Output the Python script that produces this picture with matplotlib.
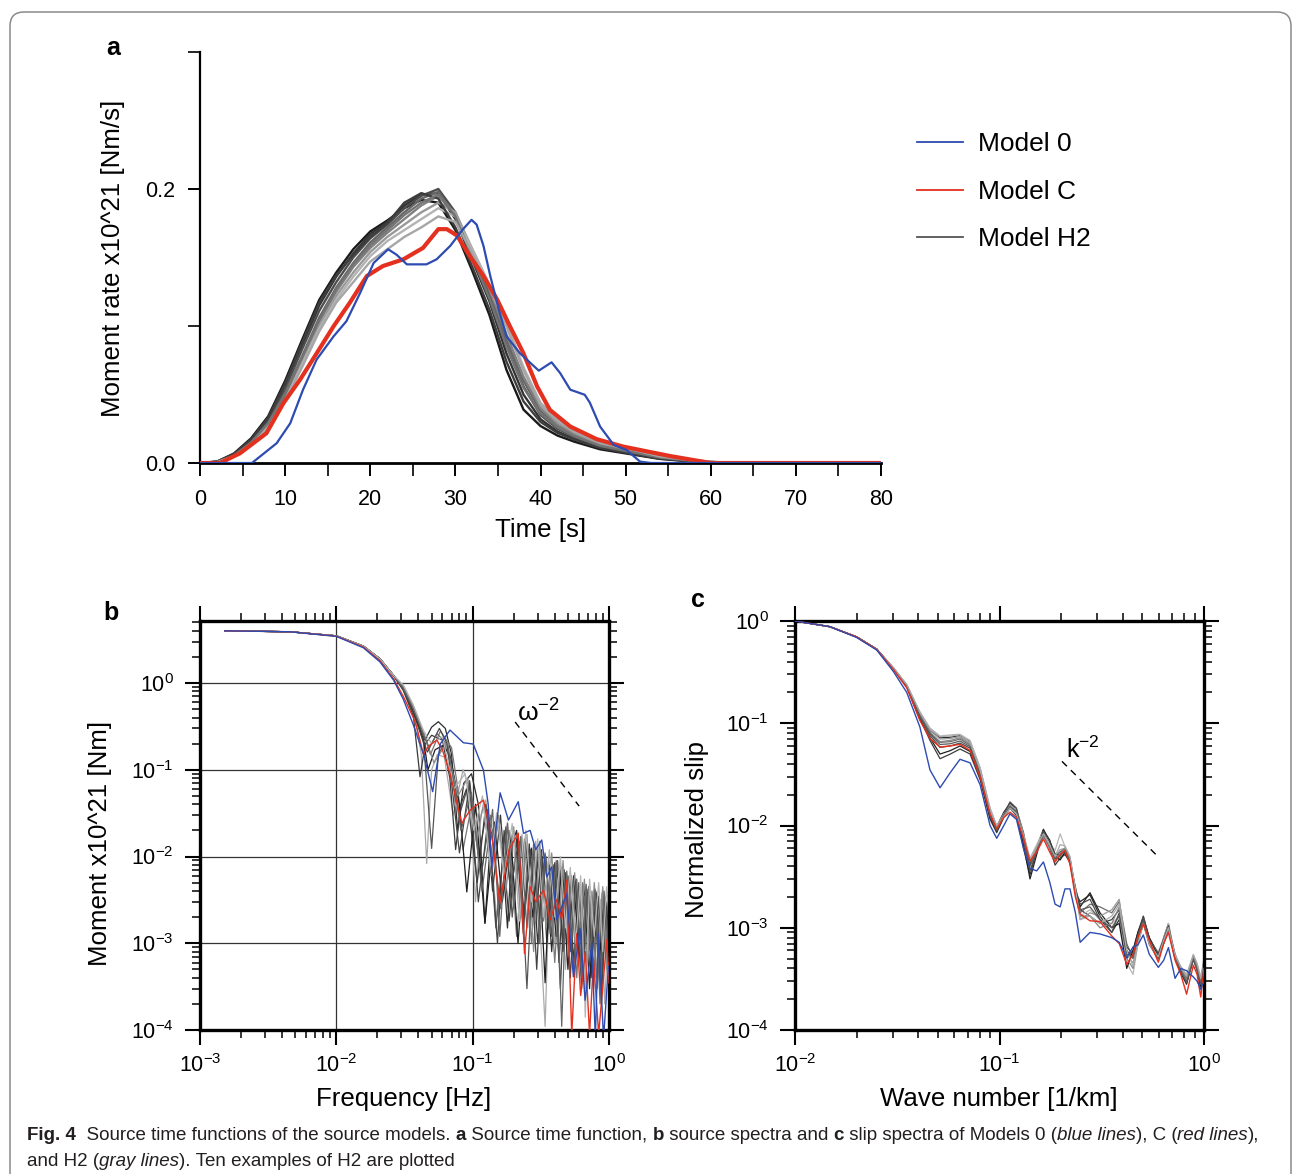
import matplotlib
matplotlib.use('Agg')
import matplotlib.pyplot as plt
from matplotlib.ticker import FixedLocator, NullFormatter, FixedFormatter, LogLocator
from matplotlib.patches import FancyBboxPatch
from matplotlib.transforms import IdentityTransform
from matplotlib.lines import Line2D

# ---------------- data: panel a (source time functions) ----------------
a_blue = [(0, 0), (6.1, 0), (6.3, 0.001), (9.0, 0.0144), (10.6, 0.029), (12.1, 0.0535), (13.7, 0.0755),
          (15.7, 0.0925), (17.2, 0.1035), (18.8, 0.124), (20.4, 0.146), (22.1, 0.156), (23.1, 0.152),
          (24.3, 0.145), (26.6, 0.145), (27.8, 0.1487), (29.4, 0.1585), (30.9, 0.1707), (31.9, 0.1775),
          (32.5, 0.174), (33.3, 0.1585), (34.1, 0.1365), (35.1, 0.112), (36.0, 0.0925), (37.6, 0.080),
          (39.8, 0.0674), (41.3, 0.0735), (42.3, 0.0657), (43.5, 0.0535), (45.2, 0.0498), (45.8, 0.044),
          (47.0, 0.0266), (48.6, 0.0132), (50.1, 0.0095), (51.7, 0.001), (53, 0), (80, 0)]
a_red = [(0, 0), (2.35, 0), (4.7, 0.0071), (7.8, 0.0217), (9.8, 0.0437), (11.75, 0.0608), (13.7, 0.080),
         (15.7, 0.0999), (17.6, 0.117), (19.6, 0.1365), (21.5, 0.1438), (23.9, 0.1487), (26.2, 0.157),
         (28.0, 0.1707), (29.0, 0.1707), (30.2, 0.166), (31.7, 0.151), (33.3, 0.1365), (34.9, 0.1194),
         (36.4, 0.0999), (38.0, 0.080), (39.6, 0.0559), (41.1, 0.0388), (43.5, 0.0266), (46.6, 0.0174),
         (49.7, 0.012), (55.2, 0.0051), (60, 0.0), (80, 0)]
a_gray_time = [0, 2, 4, 6, 8, 10, 12, 14, 16, 18, 20, 22, 24, 26, 28, 30, 32, 34, 36, 38, 40, 42, 44, 47, 50, 54, 58, 62, 80]
a_gray_colors = ['#1a1a1a', '#333333', '#4d4d4d', '#666666', '#808080', '#999999', '#b3b3b3', '#3d3d3d', '#737373', '#a6a6a6']
a_gray = [
    [0, 0.001, 0.007, 0.018, 0.034, 0.06, 0.09, 0.119, 0.139, 0.156, 0.169, 0.177, 0.186, 0.192, 0.19, 0.17, 0.14, 0.108, 0.068, 0.039, 0.027, 0.02, 0.0155, 0.010, 0.007, 0.003, 0.001, 0, 0],
    [0, 0.001, 0.0065, 0.017, 0.032, 0.057, 0.086, 0.115, 0.136, 0.153, 0.167, 0.176, 0.188, 0.196, 0.197, 0.178, 0.148, 0.118, 0.08, 0.05, 0.032, 0.023, 0.0175, 0.0115, 0.008, 0.0035, 0.0012, 0, 0],
    [0, 0.0009, 0.006, 0.016, 0.031, 0.054, 0.083, 0.111, 0.132, 0.15, 0.164, 0.174, 0.186, 0.195, 0.2, 0.183, 0.152, 0.122, 0.086, 0.056, 0.035, 0.025, 0.019, 0.012, 0.0085, 0.0038, 0.0013, 0, 0],
    [0, 0.0008, 0.006, 0.015, 0.029, 0.051, 0.078, 0.106, 0.128, 0.146, 0.161, 0.172, 0.183, 0.193, 0.198, 0.18, 0.153, 0.125, 0.09, 0.06, 0.038, 0.027, 0.02, 0.013, 0.009, 0.004, 0.0015, 0, 0],
    [0, 0.0008, 0.0055, 0.0145, 0.028, 0.049, 0.076, 0.103, 0.125, 0.143, 0.157, 0.168, 0.178, 0.188, 0.195, 0.182, 0.155, 0.127, 0.094, 0.063, 0.04, 0.028, 0.021, 0.0135, 0.0095, 0.0042, 0.0016, 0, 0],
    [0, 0.0006, 0.005, 0.014, 0.027, 0.047, 0.074, 0.1, 0.122, 0.139, 0.154, 0.165, 0.174, 0.183, 0.19, 0.183, 0.156, 0.13, 0.1, 0.068, 0.042, 0.03, 0.022, 0.014, 0.01, 0.0045, 0.0018, 0, 0],
    [0, 0.0005, 0.005, 0.013, 0.026, 0.046, 0.072, 0.098, 0.119, 0.136, 0.151, 0.162, 0.17, 0.178, 0.186, 0.18, 0.156, 0.13, 0.103, 0.07, 0.044, 0.032, 0.024, 0.016, 0.0115, 0.005, 0.002, 0, 0],
    [0, 0.0009, 0.0065, 0.017, 0.033, 0.058, 0.088, 0.117, 0.137, 0.152, 0.165, 0.175, 0.19, 0.197, 0.193, 0.172, 0.143, 0.112, 0.074, 0.045, 0.03, 0.022, 0.017, 0.011, 0.0075, 0.0032, 0.0011, 0, 0],
    [0, 0.0007, 0.0055, 0.015, 0.029, 0.05, 0.077, 0.104, 0.127, 0.145, 0.159, 0.17, 0.181, 0.19, 0.196, 0.18, 0.15, 0.12, 0.085, 0.055, 0.036, 0.026, 0.0195, 0.0125, 0.0088, 0.004, 0.0014, 0, 0],
    [0, 0.0005, 0.005, 0.013, 0.025, 0.045, 0.07, 0.096, 0.117, 0.132, 0.147, 0.156, 0.165, 0.172, 0.18, 0.176, 0.153, 0.128, 0.1, 0.068, 0.043, 0.031, 0.023, 0.015, 0.011, 0.0048, 0.0019, 0, 0],
]
a_xticks = [0, 10, 20, 30, 40, 50, 60, 70, 80]
a_yticks = [0.0, 0.2]
a_yticklabels = ['0.0', '0.2']
legend_labels = ['Model 0', 'Model C', 'Model H2']

# ---------------- data: panel b (source spectra) ----------------
b_red = [(1.52e-3, 4.0), (4.57e-3, 3.9), (0.01, 3.47), (0.0158, 2.6), (0.0209, 1.8), (0.0263, 1.12), (0.031, 0.7),
         (0.0367, 0.4), (0.0389, 0.31), (0.0434, 0.152), (0.048, 0.19), (0.0546, 0.22), (0.06, 0.17), (0.0682, 0.091),
         (0.0832, 0.0241), (0.0957, 0.0343), (0.12, 0.0447), (0.14, 0.015), (0.158, 2.9e-3), (0.185, 0.012),
         (0.216, 0.0186), (0.24, 7.6e-4), (0.264, 4.5e-3), (0.29, 3e-3), (0.331, 4.1e-3), (0.37, 1.86e-3),
         (0.414, 3.2e-3), (0.45, 1.9e-3), (0.49, 5.4e-3), (0.533, 9e-5), (0.58, 1.29e-3), (0.62, 2.5e-4),
         (0.67, 8e-4), (0.72, 9e-5), (0.77, 6.5e-4), (0.84, 9e-5), (0.964, 1.1e-3), (1.0, 3.5e-4)]
b_blue = [(1.52e-3, 4.0), (4.57e-3, 3.9), (0.01, 3.45), (0.0158, 2.55), (0.0209, 1.75), (0.0263, 1.08), (0.031, 0.65),
          (0.0367, 0.33), (0.0437, 0.15), (0.0509, 0.056), (0.058, 0.2), (0.0682, 0.287), (0.0855, 0.205),
          (0.101, 0.198), (0.12, 0.099), (0.13, 0.04), (0.138, 7.6e-3), (0.159, 0.0543), (0.183, 0.0263),
          (0.216, 0.0428), (0.236, 0.0185), (0.264, 0.020), (0.29, 0.012), (0.321, 0.0155), (0.35, 5.8e-3),
          (0.38, 7.6e-3), (0.414, 1.86e-3), (0.49, 3.7e-3), (0.548, 4.1e-4), (0.614, 1.48e-3), (0.668, 2.2e-4),
          (0.748, 1.0e-3), (0.794, 8e-5), (0.836, 1.29e-3), (0.912, 8e-5), (0.99, 5.4e-4)]
b_gray_head = [(1.52e-3, 4.0), (4.57e-3, 3.9), (0.01, 3.5), (0.0158, 2.66), (0.0209, 1.9), (0.0263, 1.22)]
b_gray_colors = ['#2b2b2b', '#aaaaaa', '#555555', '#3a3a3a', '#777777', '#1e1e1e', '#8c8c8c', '#444444', '#666666', '#b5b5b5']
b_gray_tails = [
    [(0.031, 0.85), (0.0367, 0.48), (0.0415, 0.3), (0.0447, 0.22), (0.05, 0.31), (0.056, 0.358), (0.063, 0.3), (0.07, 0.15),
     (0.0776, 0.02), (0.086, 0.07), (0.098, 0.09), (0.11, 0.04), (0.123, 1.7e-3), (0.136, 0.018), (0.15, 0.025), (0.165, 0.012),
     (0.18, 1.5e-3), (0.195, 0.014), (0.21, 0.02), (0.235, 2e-3), (0.27, 0.0125), (0.30, 1e-3), (0.34, 0.0105), (0.38, 8e-4),
     (0.42, 0.0075), (0.46, 8e-4), (0.51, 0.0058), (0.55, 6e-4), (0.6, 0.0045), (0.65, 5e-4), (0.7, 0.0038), (0.76, 4e-4),
     (0.82, 0.003), (0.88, 3e-4), (0.95, 0.0025), (1.0, 1e-3)],
    [(0.031, 0.9), (0.0367, 0.5), (0.042, 0.15), (0.046, 8.3e-3), (0.05, 0.1), (0.055, 0.15), (0.062, 0.14), (0.072, 0.03),
     (0.085, 0.1), (0.095, 0.06), (0.105, 3e-3), (0.115, 0.03), (0.125, 0.045), (0.15, 2e-3), (0.18, 0.025), (0.2, 3e-3),
     (0.23, 0.018), (0.26, 1.5e-3), (0.29, 0.015), (0.34, 1.1e-4), (0.37, 0.009), (0.40, 1e-3), (0.44, 0.008), (0.48, 5e-4),
     (0.53, 0.0055), (0.57, 8e-4), (0.62, 0.0045), (0.67, 3e-4), (0.73, 0.0035), (0.8, 4e-4), (0.87, 0.0032), (0.93, 2e-4),
     (1.0, 0.002)],
    [(0.031, 0.88), (0.0367, 0.5), (0.0437, 0.2), (0.05, 0.0124), (0.056, 0.15), (0.062, 0.2), (0.07, 0.12), (0.08, 0.03),
     (0.095, 0.075), (0.11, 0.01), (0.128, 0.035), (0.148, 1.5e-3), (0.175, 0.022), (0.195, 2e-3), (0.22, 0.015), (0.25, 3e-4),
     (0.28, 0.012), (0.31, 2e-3), (0.345, 0.01), (0.38, 1.2e-3), (0.42, 0.009), (0.46, 1e-3), (0.5, 0.006), (0.55, 5e-4),
     (0.6, 0.005), (0.65, 6e-4), (0.71, 0.0045), (0.77, 3e-4), (0.84, 0.0035), (0.9, 5e-4), (0.97, 0.003), (1.0, 0.0015)],
    [(0.031, 0.82), (0.0367, 0.42), (0.0411, 0.083), (0.045, 0.2), (0.05, 0.25), (0.06, 0.22), (0.068, 0.08), (0.075, 0.012),
     (0.082, 0.04), (0.09, 0.06), (0.108, 5e-3), (0.125, 0.04), (0.14, 4e-3), (0.16, 0.03), (0.185, 1.8e-3), (0.21, 0.016),
     (0.235, 1.3e-3), (0.26, 0.014), (0.29, 1.7e-3), (0.32, 0.012), (0.35, 1e-3), (0.39, 0.008), (0.43, 6e-4), (0.47, 0.007),
     (0.52, 4e-4), (0.57, 0.0055), (0.62, 5e-4), (0.68, 0.0045), (0.74, 4e-4), (0.8, 0.004), (0.86, 3e-4), (0.93, 0.0035),
     (1.0, 6e-4)],
    [(0.031, 0.9), (0.0367, 0.52), (0.0437, 0.26), (0.049, 0.15), (0.058, 0.28), (0.07, 0.18), (0.078, 0.06), (0.085, 0.012),
     (0.1, 0.045), (0.115, 6e-3), (0.135, 0.03), (0.16, 2.5e-3), (0.185, 0.02), (0.21, 1.2e-3), (0.24, 0.016), (0.27, 1e-3),
     (0.3, 0.013), (0.33, 1.8e-3), (0.36, 0.009), (0.4, 6e-4), (0.44, 0.007), (0.49, 1e-3), (0.53, 0.006), (0.58, 4e-4),
     (0.64, 0.005), (0.69, 6e-4), (0.75, 0.004), (0.82, 3e-4), (0.89, 0.0038), (0.95, 1e-3), (1.0, 0.003)],
    [(0.031, 0.86), (0.0367, 0.47), (0.0437, 0.22), (0.047, 0.1), (0.053, 0.17), (0.06, 0.19), (0.068, 0.15), (0.08, 0.04),
     (0.0906, 3.9e-3), (0.105, 0.04), (0.123, 1.7e-3), (0.145, 0.025), (0.165, 3e-3), (0.19, 0.018), (0.215, 1e-3),
     (0.245, 0.015), (0.275, 2e-3), (0.305, 0.011), (0.34, 3.5e-4), (0.37, 0.008), (0.41, 1.2e-3), (0.45, 0.0075), (0.5, 5e-4),
     (0.55, 0.006), (0.6, 7e-4), (0.66, 0.0048), (0.72, 3e-4), (0.78, 0.004), (0.85, 6e-4), (0.92, 0.0035), (1.0, 1.5e-3)],
    [(0.031, 0.92), (0.0367, 0.54), (0.0437, 0.27), (0.052, 0.12), (0.064, 0.2), (0.078, 0.05), (0.092, 0.08), (0.106, 0.015),
     (0.12, 0.04), (0.138, 6e-3), (0.155, 0.03), (0.175, 4e-3), (0.2, 0.022), (0.225, 2e-3), (0.25, 0.018), (0.28, 8e-4),
     (0.31, 0.015), (0.345, 1.5e-3), (0.38, 0.011), (0.42, 1e-3), (0.46, 0.009), (0.51, 7e-4), (0.56, 0.0065), (0.61, 1e-3),
     (0.66, 0.0055), (0.72, 6e-4), (0.78, 0.005), (0.84, 1e-3), (0.9, 0.0045), (0.96, 5e-4), (1.0, 0.002)],
    [(0.031, 0.84), (0.0367, 0.45), (0.0437, 0.21), (0.0465, 0.16), (0.057, 0.3), (0.065, 0.2), (0.08, 0.011), (0.095, 0.07),
     (0.11, 3e-3), (0.13, 0.028), (0.152, 1e-3), (0.17, 0.02), (0.19, 4e-3), (0.215, 0.014), (0.24, 2e-3), (0.265, 0.012),
     (0.295, 5e-4), (0.325, 0.01), (0.36, 1.5e-3), (0.4, 0.0085), (0.44, 3e-4), (0.48, 0.0065), (0.52, 8e-4), (0.57, 0.0052),
     (0.63, 3e-4), (0.69, 0.0042), (0.75, 7e-4), (0.81, 0.0038), (0.88, 2e-4), (0.94, 0.0033), (1.0, 1.2e-3)],
    [(0.031, 0.87), (0.0367, 0.5), (0.0437, 0.25), (0.048, 0.18), (0.055, 0.26), (0.066, 0.19), (0.082, 0.02), (0.098, 0.055),
     (0.117, 4e-3), (0.14, 0.035), (0.158, 1.2e-3), (0.18, 0.024), (0.2, 2.5e-3), (0.225, 0.017), (0.25, 1.5e-3), (0.28, 0.014),
     (0.31, 1e-3), (0.34, 0.011), (0.37, 1.3e-3), (0.41, 0.009), (0.45, 1.1e-4), (0.49, 0.0068), (0.53, 1e-3), (0.58, 0.0055),
     (0.63, 4e-4), (0.68, 0.0048), (0.73, 8e-4), (0.79, 0.0042), (0.86, 2e-4), (0.92, 0.004), (1.0, 8e-4)],
    [(0.031, 0.95), (0.0367, 0.56), (0.0437, 0.28), (0.05, 0.2), (0.06, 0.24), (0.073, 0.06), (0.088, 0.09), (0.102, 0.02),
     (0.118, 0.05), (0.135, 8e-3), (0.15, 0.032), (0.17, 6e-3), (0.195, 0.024), (0.22, 1.8e-3), (0.245, 0.02), (0.27, 3e-3),
     (0.3, 0.016), (0.33, 2e-3), (0.365, 0.012), (0.4, 2e-3), (0.44, 0.01), (0.48, 1.5e-3), (0.52, 0.0075), (0.57, 1e-3),
     (0.62, 0.006), (0.67, 1.4e-4), (0.72, 0.0055), (0.78, 1.2e-3), (0.84, 0.005), (0.9, 8e-4), (0.96, 0.0045), (1.0, 0.002)],
]
b_omega_line_f = [0.205, 0.604]
b_omega_line_M = [0.355, 0.0381]
b_omega_text_pos = (0.212, 0.45)

# ---------------- data: panel c (slip spectra) ----------------
c_k = [0.010, 0.0148, 0.020, 0.0251, 0.0303, 0.0352, 0.0408, 0.0457, 0.0512, 0.0575, 0.0641, 0.0718, 0.0804, 0.0899,
       0.0969, 0.105, 0.1125, 0.121, 0.131, 0.141, 0.152, 0.164, 0.176, 0.187, 0.198, 0.209, 0.221, 0.235, 0.248, 0.277,
       0.31, 0.354, 0.385, 0.419, 0.45, 0.475, 0.505, 0.54, 0.598, 0.635, 0.67, 0.722, 0.77, 0.822, 0.887, 0.925, 0.964, 1.0]
c_red = [1.0, 0.88, 0.70, 0.527, 0.335, 0.222, 0.107, 0.0708, 0.0586, 0.060, 0.0622, 0.0543, 0.0298, 0.013, 0.0093, 0.012,
         0.0135, 0.012, 0.0075, 0.0045, 0.0055, 0.0074, 0.0055, 0.0044, 0.0052, 0.0057, 0.0042, 0.0020, 0.00136, 0.00117,
         0.00115, 0.00083, 0.0007, 0.00044, 0.00055, 0.0008, 0.00109, 0.00075, 0.00046, 0.0007, 0.0009, 0.00048, 0.00035,
         0.000224, 0.00043, 0.00035, 0.00021, 0.0004]
c_blue = [1.0, 0.88, 0.69, 0.52, 0.32, 0.20, 0.092, 0.035, 0.0234, 0.033, 0.0444, 0.041, 0.025, 0.010, 0.0075, 0.010, 0.013,
          0.0115, 0.006, 0.0038, 0.0036, 0.0044, 0.0028, 0.0017, 0.0016, 0.0024, 0.0024, 0.0014, 0.00072, 0.0009, 0.00087,
          0.0008, 0.00072, 0.00051, 0.00065, 0.00068, 0.00085, 0.00055, 0.00041, 0.00048, 0.00064, 0.00032, 0.0004,
          0.00038, 0.00033, 0.0003, 0.00025, 0.0003]
c_gray_colors = ['#2a2a2a', '#3c3c3c', '#6e6e6e', '#b8b8b8', '#1f1f1f', '#9a9a9a', '#4a4a4a', '#858585', '#5a5a5a', '#aaaaaa']
c_gray = [
    [1.0, 0.88, 0.70, 0.53, 0.345, 0.235, 0.125, 0.085, 0.072, 0.073, 0.076, 0.066, 0.036, 0.0145, 0.0098, 0.0135, 0.0165, 0.0145, 0.0085, 0.0042, 0.0062, 0.0092, 0.0068, 0.0052, 0.0055, 0.0058, 0.0045, 0.0022, 0.0018, 0.0021, 0.0013, 0.0009, 0.0012, 0.0005, 0.0006, 0.0009, 0.0013, 0.0008, 0.00055, 0.00075, 0.001, 0.00055, 0.0004, 0.0003, 0.00052, 0.0004, 0.00028, 0.00045],
    [1.0, 0.88, 0.70, 0.53, 0.34, 0.228, 0.112, 0.068, 0.045, 0.05, 0.056, 0.05, 0.028, 0.0115, 0.0085, 0.012, 0.0148, 0.0125, 0.006, 0.0033, 0.0058, 0.0085, 0.006, 0.0041, 0.0048, 0.0052, 0.0044, 0.0025, 0.0015, 0.0013, 0.0011, 0.0012, 0.0015, 0.0006, 0.0005, 0.0008, 0.0012, 0.0007, 0.0005, 0.0008, 0.0011, 0.0005, 0.0004, 0.00032, 0.0005, 0.00038, 0.00025, 0.0004],
    [1.0, 0.88, 0.70, 0.53, 0.345, 0.232, 0.12, 0.08, 0.065, 0.066, 0.07, 0.061, 0.033, 0.0135, 0.0092, 0.0125, 0.0155, 0.0138, 0.0078, 0.0045, 0.006, 0.0085, 0.0065, 0.0048, 0.0055, 0.006, 0.0048, 0.0024, 0.0014, 0.0017, 0.0016, 0.0014, 0.0018, 0.0007, 0.0005, 0.0007, 0.0011, 0.0007, 0.0005, 0.0007, 0.001, 0.0005, 0.00038, 0.0003, 0.00048, 0.00042, 0.0003, 0.00048],
    [1.0, 0.88, 0.70, 0.53, 0.35, 0.24, 0.13, 0.09, 0.075, 0.077, 0.078, 0.068, 0.037, 0.015, 0.010, 0.0128, 0.016, 0.0142, 0.0082, 0.0048, 0.0065, 0.0088, 0.0066, 0.0057, 0.0083, 0.0062, 0.0047, 0.0021, 0.0013, 0.0015, 0.0012, 0.0011, 0.0013, 0.00045, 0.00035, 0.0007, 0.00125, 0.00075, 0.00058, 0.0008, 0.0011, 0.00055, 0.00042, 0.00035, 0.00055, 0.00045, 0.00033, 0.0005],
    [1.0, 0.88, 0.70, 0.53, 0.34, 0.226, 0.108, 0.072, 0.05, 0.054, 0.06, 0.053, 0.03, 0.012, 0.0088, 0.0125, 0.0158, 0.0135, 0.0065, 0.003, 0.0052, 0.009, 0.0072, 0.005, 0.0046, 0.0055, 0.0043, 0.0023, 0.0016, 0.0022, 0.0014, 0.001, 0.0011, 0.0004, 0.0006, 0.0009, 0.0012, 0.0008, 0.00052, 0.0007, 0.00095, 0.0005, 0.00036, 0.00028, 0.0005, 0.0004, 0.00027, 0.00042],
    [1.0, 0.88, 0.70, 0.53, 0.348, 0.236, 0.125, 0.086, 0.07, 0.071, 0.074, 0.063, 0.034, 0.014, 0.0096, 0.013, 0.0158, 0.014, 0.008, 0.0046, 0.0058, 0.008, 0.0062, 0.0049, 0.0058, 0.006, 0.0049, 0.0023, 0.0012, 0.0014, 0.0013, 0.0015, 0.0019, 0.00055, 0.00045, 0.00075, 0.00115, 0.0007, 0.00048, 0.00072, 0.001, 0.00052, 0.0004, 0.00033, 0.00052, 0.00043, 0.00031, 0.00046],
    [1.0, 0.88, 0.70, 0.53, 0.342, 0.23, 0.116, 0.076, 0.058, 0.06, 0.064, 0.057, 0.031, 0.0128, 0.009, 0.0128, 0.017, 0.0148, 0.0072, 0.0036, 0.0055, 0.0088, 0.007, 0.0053, 0.0051, 0.0058, 0.0046, 0.0024, 0.0017, 0.0019, 0.0012, 0.0009, 0.0014, 0.00065, 0.00055, 0.00085, 0.00128, 0.00078, 0.00056, 0.00078, 0.00105, 0.00052, 0.00037, 0.0003, 0.00053, 0.00041, 0.00029, 0.00044],
    [1.0, 0.88, 0.70, 0.53, 0.344, 0.233, 0.121, 0.082, 0.066, 0.068, 0.072, 0.062, 0.032, 0.013, 0.0094, 0.0127, 0.0152, 0.0135, 0.0078, 0.0044, 0.0057, 0.0078, 0.006, 0.0046, 0.0053, 0.0059, 0.0046, 0.0022, 0.0013, 0.0013, 0.001, 0.0011, 0.0016, 0.0005, 0.0004, 0.00072, 0.0011, 0.00068, 0.0005, 0.00074, 0.00098, 0.0005, 0.00039, 0.00031, 0.0005, 0.0004, 0.0003, 0.00047],
    [1.0, 0.88, 0.70, 0.53, 0.343, 0.231, 0.118, 0.079, 0.062, 0.063, 0.067, 0.059, 0.032, 0.0125, 0.0089, 0.0123, 0.0153, 0.0135, 0.0074, 0.004, 0.0056, 0.0082, 0.0063, 0.0047, 0.005, 0.0056, 0.0045, 0.0022, 0.0015, 0.0016, 0.0012, 0.001, 0.0013, 0.00055, 0.00052, 0.00082, 0.00118, 0.00072, 0.0005, 0.00073, 0.001, 0.00053, 0.00038, 0.00029, 0.00049, 0.00039, 0.00028, 0.00043],
    [1.0, 0.88, 0.70, 0.53, 0.347, 0.238, 0.128, 0.088, 0.074, 0.075, 0.077, 0.065, 0.035, 0.0142, 0.0095, 0.0122, 0.0148, 0.013, 0.0077, 0.0047, 0.0062, 0.0083, 0.0064, 0.005, 0.0065, 0.0063, 0.005, 0.0024, 0.0012, 0.0013, 0.0011, 0.0013, 0.0017, 0.0006, 0.00042, 0.00068, 0.0011, 0.0007, 0.00052, 0.00075, 0.001, 0.00054, 0.00041, 0.00034, 0.00054, 0.00044, 0.00032, 0.00048],
]
c_k2_line_k = [0.202, 0.589]
c_k2_line_S = [0.0424, 0.00508]
c_k2_text_pos = (0.211, 0.055)

b_xticks = [1e-3, 1e-2, 1e-1, 1e0]
b_xticklabels = ['$10^{-3}$', '$10^{-2}$', '$10^{-1}$', '$10^{0}$']
b_yticks = [1e-4, 1e-3, 1e-2, 1e-1, 1e0]
b_yticklabels = ['$10^{-4}$', '$10^{-3}$', '$10^{-2}$', '$10^{-1}$', '$10^{0}$']
c_xticks = [1e-2, 1e-1, 1e0]
c_xticklabels = ['$10^{-2}$', '$10^{-1}$', '$10^{0}$']
c_yticks = [1e-4, 1e-3, 1e-2, 1e-1, 1e0]
c_yticklabels = ['$10^{-4}$', '$10^{-3}$', '$10^{-2}$', '$10^{-1}$', '$10^{0}$']

BLUE = '#2d4bb0'
RED = '#e3301f'

# ---------------- figure ----------------
SANS = 'Liberation Sans'
plt.rcParams['font.family'] = [SANS, 'DejaVu Sans']
plt.rcParams['mathtext.fontset'] = 'custom'
plt.rcParams['mathtext.rm'] = SANS
plt.rcParams['mathtext.it'] = SANS + ':italic'
plt.rcParams['mathtext.bf'] = SANS + ':bold'

W, H = 1293, 1174
fig = plt.figure(figsize=(W / 100, H / 100), dpi=100)


def fx(x):
    return x / W


def fy(y):
    return 1 - y / H


# rounded outer border
border = FancyBboxPatch((10, -40), 1281, H - 12 + 40, boxstyle='round,pad=0,rounding_size=14',
                        transform=IdentityTransform(), facecolor='none', edgecolor='#8a8a8a', lw=1.1)
fig.add_artist(border)

# ---------------- panel a ----------------
axa = fig.add_axes([fx(200), fy(463), 681 / W, 411 / H])
for vals, col in zip(a_gray, a_gray_colors):
    axa.plot(a_gray_time, vals, color=col, lw=1.7, zorder=2)
axa.plot([p[0] for p in a_red], [p[1] for p in a_red], color=RED, lw=3.0, zorder=3)
axa.plot([p[0] for p in a_blue], [p[1] for p in a_blue], color=BLUE, lw=1.6, zorder=4)
axa.set_xlim(0, 80)
axa.set_ylim(0, 0.3)
for s in ['top', 'right']:
    axa.spines[s].set_visible(False)
axa.spines['left'].set_linewidth(1.6)
axa.spines['bottom'].set_linewidth(2.0)
axa.xaxis.set_major_locator(FixedLocator(a_xticks))
axa.xaxis.set_minor_locator(FixedLocator([5, 15, 25, 35, 45, 55, 65, 75]))
axa.yaxis.set_major_locator(FixedLocator(a_yticks))
axa.yaxis.set_major_formatter(FixedFormatter(a_yticklabels))
axa.yaxis.set_minor_locator(FixedLocator([0.1, 0.3]))
axa.tick_params(which='major', direction='out', length=9, width=1.4, labelsize=15.5)
axa.tick_params(which='minor', direction='out', length=9, width=1.2)
axa.tick_params(axis='x', pad=10)
axa.tick_params(axis='y', pad=9)
handles = [Line2D([], [], color=BLUE, lw=1.3), Line2D([], [], color=RED, lw=1.3), Line2D([], [], color='#555555', lw=1.3)]
axa.legend(handles, legend_labels, loc='upper left', bbox_to_anchor=(fx(917), fy(132)), bbox_transform=fig.transFigure,
           frameon=False, fontsize=19, handlelength=1.75, handletextpad=0.55, labelspacing=0.9, borderpad=0, borderaxespad=0)

fig.text(fx(113), fy(258), 'Moment rate x10^21 [Nm/s]', rotation=90, ha='center', va='center', fontsize=18.6)
fig.text(fx(541), fy(530), 'Time [s]', ha='center', va='center', fontsize=18.6)
fig.text(fx(113), fy(55), 'a', ha='center', va='baseline', fontsize=18, fontweight='bold')


def style_log(ax, xt, xtl, yt, ytl):
    ax.set_xscale('log')
    ax.set_yscale('log')
    for s in ax.spines.values():
        s.set_linewidth(2.4)
    ax.xaxis.set_major_locator(FixedLocator(xt))
    ax.xaxis.set_major_formatter(FixedFormatter(xtl))
    ax.yaxis.set_major_locator(FixedLocator(yt))
    ax.yaxis.set_major_formatter(FixedFormatter(ytl))
    ax.xaxis.set_minor_locator(LogLocator(base=10, subs=range(2, 10), numticks=50))
    ax.yaxis.set_minor_locator(LogLocator(base=10, subs=range(2, 10), numticks=50))
    ax.xaxis.set_minor_formatter(NullFormatter())
    ax.yaxis.set_minor_formatter(NullFormatter())
    ax.tick_params(which='both', direction='out', top=True, right=True, labeltop=False, labelright=False)
    ax.tick_params(which='major', length=11, width=1.5, labelsize=15.5)
    ax.tick_params(which='minor', length=6, width=1.1)
    ax.tick_params(axis='x', which='major', pad=6)
    ax.tick_params(axis='y', which='major', pad=8)


# ---------------- panel b ----------------
axb = fig.add_axes([fx(200), fy(1030), 409 / W, 409 / H])
for tail, col in zip(b_gray_tails, b_gray_colors):
    pts = b_gray_head + tail
    axb.plot([p[0] for p in pts], [p[1] for p in pts], color=col, lw=0.9, zorder=2)
axb.plot([p[0] for p in b_red], [p[1] for p in b_red], color=RED, lw=1.0, zorder=3)
axb.plot([p[0] for p in b_blue], [p[1] for p in b_blue], color=BLUE, lw=1.0, zorder=4)
axb.plot(b_omega_line_f, b_omega_line_M, color='black', lw=1.0, ls=(0, (5, 4)), zorder=5)
axb.text(b_omega_text_pos[0], b_omega_text_pos[1], 'ω$^{-2}$', fontsize=19, ha='left', va='center')
style_log(axb, b_xticks, b_xticklabels, b_yticks, b_yticklabels)
axb.set_xlim(1e-3, 1.0)
axb.set_ylim(1e-4, 5.19)
axb.grid(True, which='major', color='#333333', lw=0.9)
axb.set_axisbelow(True)
fig.text(fx(100), fy(843), 'Moment x10^21 [Nm]', rotation=90, ha='center', va='center', fontsize=18.6)
fig.text(fx(404), fy(1099), 'Frequency [Hz]', ha='center', va='center', fontsize=18.6)
fig.text(fx(111), fy(620), 'b', ha='center', va='baseline', fontsize=18, fontweight='bold')

# ---------------- panel c ----------------
axc = fig.add_axes([fx(795), fy(1030), 409 / W, 409 / H])
for vals, col in zip(c_gray, c_gray_colors):
    axc.plot(c_k, vals, color=col, lw=0.9, zorder=2)
axc.plot(c_k, c_red, color=RED, lw=1.0, zorder=3)
axc.plot(c_k, c_blue, color=BLUE, lw=1.0, zorder=4)
axc.plot(c_k2_line_k, c_k2_line_S, color='black', lw=1.0, ls=(0, (5, 4)), zorder=5)
axc.text(c_k2_text_pos[0], c_k2_text_pos[1], r'k$^{-2}$', fontsize=18, ha='left', va='center')
style_log(axc, c_xticks, c_xticklabels, c_yticks, c_yticklabels)
axc.set_xlim(1e-2, 1.0)
axc.set_ylim(1e-4, 1.0)
fig.text(fx(697), fy(830), 'Normalized slip', rotation=90, ha='center', va='center', fontsize=18.6)
fig.text(fx(999), fy(1099), 'Wave number [1/km]', ha='center', va='center', fontsize=18.6)
fig.text(fx(698), fy(607), 'c', ha='center', va='baseline', fontsize=18, fontweight='bold')

# ---------------- caption ----------------
cap_family = ['Liberation Sans Narrow', 'Liberation Sans', 'DejaVu Sans']
cap_line1 = [('Fig. 4', 'b'), ('  Source time functions of the source models. ', 'n'), ('a', 'b'),
             (' Source time function, ', 'n'), ('b', 'b'), (' source spectra and ', 'n'), ('c', 'b'),
             (' slip spectra of Models 0 (', 'n'), ('blue lines', 'i'), ('), C (', 'n'), ('red lines', 'i'), ('),', 'n')]
cap_line2 = [('and H2 (', 'n'), ('gray lines', 'i'), ('). Ten examples of H2 are plotted', 'n')]

renderer = fig.canvas.get_renderer()


def draw_runs(runs, x0, ybase, size):
    x = x0
    arts = []
    for txt, st in runs:
        kw = dict(fontsize=size, family=cap_family, color='#231f20', va='baseline', ha='left')
        if st == 'b':
            kw['fontweight'] = 'bold'
        if st == 'i':
            kw['fontstyle'] = 'italic'
        t = fig.text(x / W, 1 - ybase / H, txt.replace(' ', '\u00a0'), **kw)
        bb = t.get_window_extent(renderer)
        x += bb.width
        arts.append(t)
    return arts, x - x0


size0 = 13.0
arts, wid = draw_runs(cap_line1, 27, 1140, size0)
for t in arts:
    t.remove()
size = size0 * 1235 / wid
draw_runs(cap_line1, 27, 1140, size)
draw_runs(cap_line2, 27, 1166, size)

fig.savefig('out.png', dpi=100)
